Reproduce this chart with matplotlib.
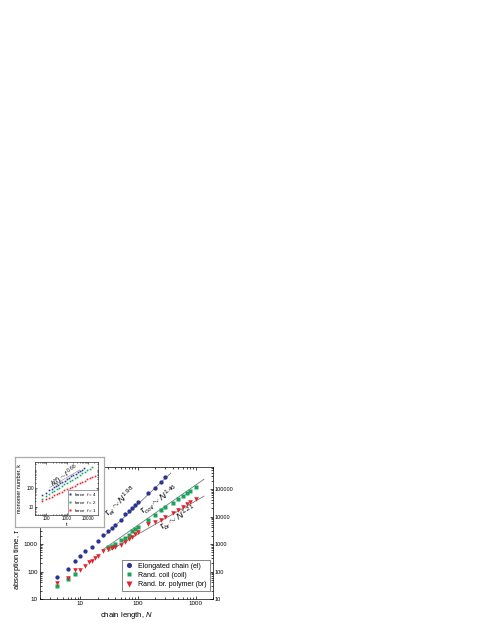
import matplotlib.pyplot as plt
from matplotlib import ticker

plt.rcParams['font.family'] = ['Liberation Sans', 'DejaVu Sans']
plt.rcParams['mathtext.fontset'] = 'custom'
plt.rcParams['mathtext.rm'] = 'Liberation Sans'
plt.rcParams['mathtext.it'] = 'Liberation Sans:italic'

# main plot: absorption time vs chain length
el_N = [4, 6, 8, 10, 12, 16, 20, 25, 30, 35, 40, 50, 60, 70, 80, 90, 100, 150, 200, 250, 300]
el_tau = [64, 125, 240, 355, 540, 800, 1300, 2100, 3000, 3900, 5100, 7800, 12000, 15800,
          21000, 27000, 34000, 74000, 112000, 186000, 277000]

coil_N = [4, 6, 8, 30, 35, 40, 50, 60, 70, 80, 90, 100,
          150, 200, 250, 300, 400, 500, 600, 700, 800, 1000]
coil_tau = [30, 55, 80, 760, 850, 980, 1350, 1700, 2200, 2900, 3500, 4300,
            7600, 11000, 17000, 23000, 32000, 45000, 56000, 70000, 85000, 120000]

br_N = [4, 6, 8, 10, 12, 14, 16, 18, 20, 25, 30, 35, 40, 50, 60, 70, 80, 90, 100,
        150, 200, 250, 300, 400, 500, 600, 700, 800, 1000]
br_tau = [37, 57, 110, 115, 160, 220, 250, 310, 375, 540, 650, 720, 800, 950, 1200, 1500, 1800, 2300, 2700,
          5200, 6200, 7800, 9500, 13000, 17000, 22000, 28000, 34000, 45000]

# power law guide lines (end points)
el_fit_N = [25, 370]
el_fit_tau = [1800, 380000]
coil_fit_N = [25, 1400]
coil_fit_tau = [640, 229000]
br_fit_N = [30, 1400]
br_fit_tau = [530, 55600]

# inset: monomer number vs time
f4_t = [60, 95, 135, 180, 230, 290, 370, 470, 600, 760, 970, 1230, 1560, 2000, 2540, 3230, 4100, 5200, 6600]
f4_k = [41, 56, 75, 88, 110, 125, 154, 178, 218, 250, 308, 356, 433, 508, 615, 720, 865, 1010, 1220]
f2_t = [60, 95, 135, 180, 240, 320, 420, 560, 740, 980, 1300, 1720, 2280, 3000, 4000, 5300, 7000,
        9300, 12300, 16300]
f2_k = [27, 37, 48, 58, 71, 87, 105, 129, 157, 191, 232, 283, 344, 417, 510, 622, 755, 921, 1121, 1365]
f1_t = [60, 95, 135, 180, 240, 320, 420, 560, 740, 980, 1300, 1720, 2280, 3000, 4000, 5300, 7000,
        9300, 12300, 16300, 21500]
f1_k = [19, 25, 30, 35, 41, 48, 55, 64, 75, 87, 102, 118, 138, 160, 186, 217, 252, 294, 342, 398, 462]
ins_fit_t = [150, 4000]
ins_fit_k = [110, 960]

blue = '#2b3594'
green = '#17a55a'
red = '#e3222b'

fig = plt.figure(figsize=(4.91, 6.35), dpi=100)
ax = fig.add_axes([0.0815, 0.0567, 0.3523, 0.2083])

ax.plot(el_fit_N, el_fit_tau, color='#777777', lw=0.6)
ax.plot(coil_fit_N, coil_fit_tau, color='#777777', lw=0.6)
ax.plot(br_fit_N, br_fit_tau, color='#777777', lw=0.6)
ax.plot(el_N, el_tau, 'o', color=blue, ms=3.1, mec='none', label='Elongated chain (el)')
ax.plot(coil_N, coil_tau, 's', color=green, ms=2.7, mec='none', label='Rand. coil (coil)')
ax.plot(br_N, br_tau, 'v', color=red, ms=3.3, mec='none', label='Rand. br. polymer (br)')

ax.set_xscale('log')
ax.set_yscale('log')
ax.set_xlim(2, 2000)
ax.set_ylim(10, 6.5e5)
ax.xaxis.set_major_locator(ticker.FixedLocator([10, 100, 1000]))
ax.yaxis.set_major_locator(ticker.FixedLocator([10, 100, 1000, 10000, 100000]))
fmt = ticker.FuncFormatter(lambda v, p: '%d' % v)
ax.xaxis.set_major_formatter(fmt)
ax.yaxis.set_major_formatter(fmt)
ax.tick_params(which='both', direction='in', top=True, right=True, labelright=True,
               width=0.5, labelsize=4.5, pad=1.5)
ax.tick_params(which='major', length=2.5)
ax.tick_params(which='minor', length=1.3)
for i, t in enumerate(ax.yaxis.get_major_ticks()):
    t.label2.set_fontsize(4)
    if i >= 3:
        # these sit under the inset box
        t.label1.set_visible(False)
for s in ax.spines.values():
    s.set_linewidth(0.5)

ax.set_xlabel(r'chain length, $N$', fontsize=5.5, labelpad=3)
ax.set_ylabel(r'absorption time, $\tau$', fontsize=5.5)
ax.yaxis.set_label_coords(-0.1, 0.3)

ax.text(50, 35000, r'$\tau_{el}\sim N^{1.98}$', fontsize=6.5, rotation=43, ha='center', va='center')
ax.text(240, 40000, r'$\tau_{coil}\sim N^{1.46}$', fontsize=6.5, rotation=34, ha='center', va='center')
ax.text(500, 8500, r'$\tau_{br}\sim N^{1.21}$', fontsize=6.5, rotation=30, ha='center', va='center')

leg = ax.legend(loc='lower right', bbox_to_anchor=(0.98, 0.06), borderaxespad=0, fontsize=5,
                fancybox=False, edgecolor='#555555', handlelength=1.0, handletextpad=0.8,
                borderpad=0.45, labelspacing=0.3, framealpha=1, markerscale=1.2)
leg.get_frame().set_linewidth(0.5)

# inset frame
box = fig.add_axes([0.0305, 0.170, 0.1813, 0.1102])
box.set_xticks([])
box.set_yticks([])
for s in box.spines.values():
    s.set_color('#aaaaaa')
    s.set_linewidth(0.9)

ins = fig.add_axes([0.0719, 0.1890, 0.1277, 0.0830])
ins.plot(ins_fit_t, ins_fit_k, color='#888888', lw=0.4)
ins.plot(f4_t, f4_k, 's', color=blue, ms=1.2, mec='none', label=r'force  $f$ = 4')
ins.plot(f2_t, f2_k, 's', color=green, ms=1.2, mec='none', label=r'force  $f$ = 2')
ins.plot(f1_t, f1_k, 's', color=red, ms=1.2, mec='none', label=r'force  $f$ = 1')
ins.set_xscale('log')
ins.set_yscale('log')
ins.set_xlim(30, 30000)
ins.set_ylim(3.5, 2500)
ins.xaxis.set_major_locator(ticker.FixedLocator([100, 1000, 10000]))
ins.yaxis.set_major_locator(ticker.FixedLocator([10, 100]))
ins.xaxis.set_major_formatter(fmt)
ins.yaxis.set_major_formatter(fmt)
ins.tick_params(which='both', direction='in', top=True, right=True, width=0.4, labelsize=3.3, pad=1)
ins.tick_params(which='major', length=1.5)
ins.tick_params(which='minor', length=0.8)
for s in ins.spines.values():
    s.set_linewidth(0.4)
ins.set_xlabel('t', fontsize=4, labelpad=0.5)
ins.set_ylabel('monomer number, k', fontsize=4)
ins.yaxis.set_label_coords(-0.22, 0.5)
ins.text(800, 430, r'$k(t)\sim t^{0.66}$', fontsize=5, rotation=35, ha='center', va='center')
ileg = ins.legend(loc='lower right', borderaxespad=0, fontsize=3.2, fancybox=False,
                  edgecolor='#555555', handlelength=0.6, handletextpad=0.5, borderpad=0.3,
                  labelspacing=0.2, framealpha=1, markerscale=1.5)
ileg.get_frame().set_linewidth(0.4)

fig.savefig('out.png', dpi=100)
